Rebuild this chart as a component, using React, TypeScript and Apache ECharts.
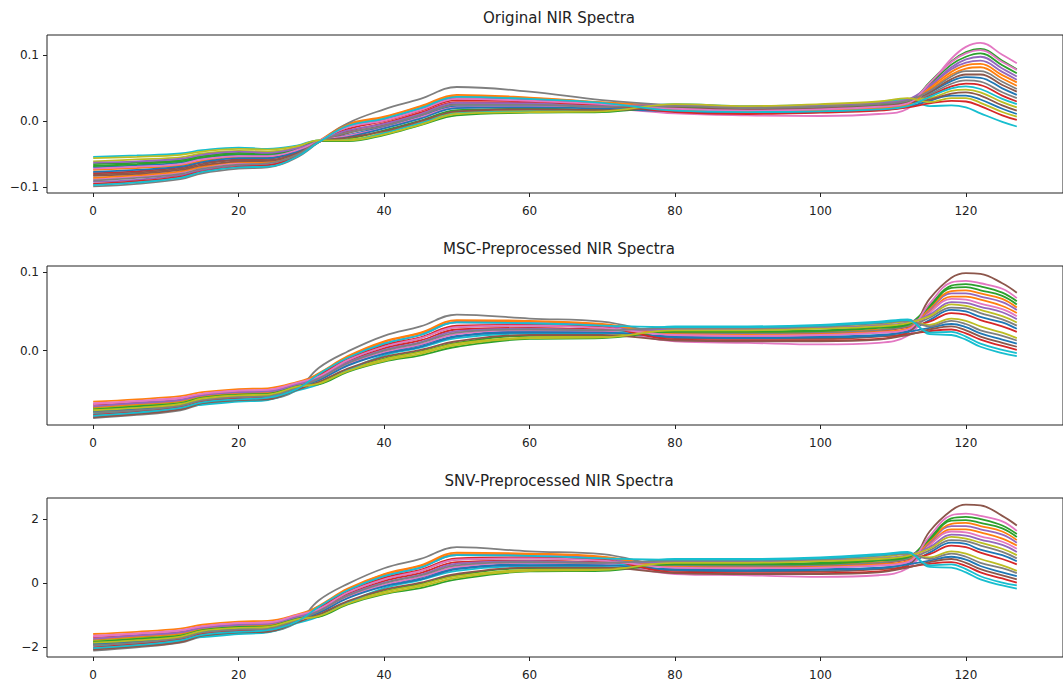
import React, { useEffect, useRef } from "react";
import * as echarts from "echarts";

// wavelength index sample positions
const X = [0, 6, 12, 15, 20, 24, 28, 31, 35, 40, 45, 50, 60, 70, 80, 90, 100, 108, 112, 115, 118, 120, 122, 125, 127];

const X_TICKS = [0, 20, 40, 60, 80, 100, 120];
const Y_TICKS_ORIG = [-0.1, 0, 0.1];
const Y_TICKS_MSC = [0, 0.1];
const Y_TICKS_SNV = [-2, 0, 2];

const TITLES = ["Original NIR Spectra", "MSC-Preprocessed NIR Spectra", "SNV-Preprocessed NIR Spectra"];

const COLORS = ["#1f77b4", "#ff7f0e", "#2ca02c", "#d62728", "#9467bd", "#8c564b", "#e377c2", "#7f7f7f", "#bcbd22", "#17becf"];

const ORIGINAL = [
  [-0.070, -0.067, -0.063, -0.056, -0.051, -0.052, -0.043, -0.030, -0.021, -0.008, 0.007, 0.023, 0.023, 0.021, 0.018, 0.016, 0.017, 0.021, 0.026, 0.043, 0.061, 0.067, 0.066, 0.050, 0.040],
  [-0.074, -0.071, -0.067, -0.060, -0.054, -0.055, -0.045, -0.030, -0.004, 0.007, 0.023, 0.040, 0.036, 0.029, 0.023, 0.020, 0.022, 0.026, 0.031, 0.048, 0.071, 0.080, 0.082, 0.065, 0.054],
  [-0.065, -0.063, -0.059, -0.053, -0.048, -0.049, -0.042, -0.030, -0.027, -0.014, 0.001, 0.017, 0.019, 0.018, 0.020, 0.017, 0.019, 0.023, 0.028, 0.059, 0.091, 0.105, 0.110, 0.092, 0.079],
  [-0.079, -0.076, -0.070, -0.063, -0.058, -0.057, -0.047, -0.031, -0.015, -0.003, 0.013, 0.029, 0.028, 0.024, 0.021, 0.018, 0.021, 0.024, 0.029, 0.039, 0.053, 0.057, 0.055, 0.039, 0.030],
  [-0.092, -0.089, -0.082, -0.074, -0.067, -0.066, -0.052, -0.032, -0.009, 0.003, 0.019, 0.035, 0.033, 0.027, 0.017, 0.014, 0.016, 0.019, 0.024, 0.052, 0.079, 0.089, 0.092, 0.075, 0.063],
  [-0.081, -0.078, -0.072, -0.065, -0.059, -0.059, -0.048, -0.031, -0.018, -0.006, 0.010, 0.026, 0.026, 0.022, 0.019, 0.016, 0.018, 0.022, 0.027, 0.044, 0.064, 0.071, 0.071, 0.055, 0.045],
  [-0.088, -0.084, -0.078, -0.070, -0.064, -0.063, -0.051, -0.031, -0.022, -0.010, 0.006, 0.021, 0.022, 0.020, 0.012, 0.009, 0.008, 0.011, 0.019, 0.055, 0.095, 0.113, 0.119, 0.101, 0.088],
  [-0.099, -0.095, -0.088, -0.079, -0.072, -0.070, -0.055, -0.032, -0.003, 0.018, 0.034, 0.052, 0.045, 0.032, 0.024, 0.019, 0.020, 0.023, 0.028, 0.041, 0.057, 0.062, 0.060, 0.044, 0.035],
  [-0.061, -0.058, -0.055, -0.049, -0.045, -0.046, -0.040, -0.029, -0.028, -0.017, -0.002, 0.014, 0.016, 0.016, 0.024, 0.021, 0.024, 0.028, 0.033, 0.035, 0.046, 0.048, 0.044, 0.029, 0.021],
  [-0.054, -0.052, -0.049, -0.044, -0.040, -0.042, -0.037, -0.029, -0.029, -0.018, -0.003, 0.012, 0.015, 0.016, 0.026, 0.023, 0.025, 0.029, 0.034, 0.023, 0.024, 0.021, 0.012, -0.001, -0.008],
  [-0.077, -0.074, -0.069, -0.062, -0.056, -0.056, -0.046, -0.031, -0.024, -0.011, 0.004, 0.020, 0.021, 0.019, 0.015, 0.013, 0.014, 0.017, 0.022, 0.031, 0.039, 0.039, 0.033, 0.019, 0.011],
  [-0.086, -0.082, -0.076, -0.069, -0.062, -0.062, -0.050, -0.031, -0.006, 0.006, 0.022, 0.038, 0.035, 0.028, 0.017, 0.015, 0.017, 0.020, 0.025, 0.050, 0.075, 0.085, 0.087, 0.070, 0.059],
  [-0.068, -0.065, -0.061, -0.055, -0.050, -0.050, -0.042, -0.030, -0.030, -0.021, -0.006, 0.009, 0.013, 0.014, 0.022, 0.019, 0.021, 0.025, 0.030, 0.056, 0.086, 0.098, 0.103, 0.085, 0.073],
  [-0.095, -0.091, -0.084, -0.076, -0.069, -0.067, -0.053, -0.032, -0.012, 0.000, 0.016, 0.032, 0.030, 0.025, 0.014, 0.011, 0.013, 0.016, 0.021, 0.027, 0.031, 0.030, 0.023, 0.009, 0.002],
  [-0.063, -0.061, -0.057, -0.051, -0.046, -0.048, -0.041, -0.030, -0.014, -0.004, 0.011, 0.028, 0.027, 0.023, 0.025, 0.022, 0.025, 0.028, 0.033, 0.054, 0.082, 0.094, 0.098, 0.080, 0.068],
  [-0.083, -0.080, -0.074, -0.067, -0.061, -0.060, -0.049, -0.031, -0.025, -0.015, 0.000, 0.015, 0.018, 0.017, 0.020, 0.018, 0.020, 0.023, 0.028, 0.033, 0.042, 0.044, 0.039, 0.024, 0.016],
  [-0.072, -0.069, -0.065, -0.058, -0.053, -0.053, -0.044, -0.030, -0.009, 0.001, 0.017, 0.034, 0.031, 0.026, 0.019, 0.016, 0.018, 0.022, 0.027, 0.058, 0.090, 0.103, 0.108, 0.090, 0.078],
  [-0.090, -0.086, -0.080, -0.072, -0.066, -0.064, -0.051, -0.031, -0.017, -0.007, 0.009, 0.025, 0.025, 0.022, 0.023, 0.020, 0.022, 0.026, 0.031, 0.046, 0.068, 0.076, 0.076, 0.060, 0.049],
  [-0.056, -0.054, -0.051, -0.046, -0.042, -0.043, -0.038, -0.029, -0.029, -0.020, -0.005, 0.011, 0.014, 0.015, 0.026, 0.023, 0.026, 0.030, 0.035, 0.029, 0.035, 0.035, 0.028, 0.014, 0.007],
  [-0.097, -0.093, -0.086, -0.077, -0.070, -0.069, -0.054, -0.032, -0.007, 0.004, 0.020, 0.037, 0.034, 0.028, 0.016, 0.014, 0.015, 0.018, 0.023, 0.037, 0.050, 0.053, 0.049, 0.034, 0.026],
];

const MSC = [
  [-0.076, -0.073, -0.068, -0.061, -0.057, -0.056, -0.046, -0.037, -0.018, -0.003, 0.007, 0.019, 0.025, 0.024, 0.018, 0.017, 0.018, 0.020, 0.025, 0.039, 0.052, 0.050, 0.043, 0.036, 0.028],
  [-0.065, -0.062, -0.058, -0.053, -0.049, -0.048, -0.040, -0.030, -0.008, 0.011, 0.022, 0.037, 0.037, 0.033, 0.023, 0.023, 0.024, 0.027, 0.032, 0.050, 0.069, 0.069, 0.065, 0.057, 0.048],
  [-0.073, -0.069, -0.065, -0.059, -0.055, -0.053, -0.044, -0.041, -0.024, -0.010, -0.001, 0.010, 0.019, 0.019, 0.025, 0.025, 0.026, 0.030, 0.034, 0.058, 0.083, 0.085, 0.082, 0.074, 0.063],
  [-0.069, -0.066, -0.062, -0.056, -0.052, -0.051, -0.042, -0.034, -0.014, 0.003, 0.013, 0.027, 0.029, 0.027, 0.022, 0.021, 0.022, 0.025, 0.030, 0.037, 0.048, 0.046, 0.039, 0.031, 0.024],
  [-0.084, -0.080, -0.074, -0.067, -0.063, -0.061, -0.049, -0.030, -0.009, 0.009, 0.020, 0.036, 0.035, 0.032, 0.020, 0.019, 0.020, 0.023, 0.027, 0.052, 0.073, 0.073, 0.069, 0.062, 0.052],
  [-0.078, -0.075, -0.069, -0.063, -0.059, -0.057, -0.047, -0.033, -0.012, 0.005, 0.016, 0.030, 0.032, 0.029, 0.016, 0.015, 0.015, 0.018, 0.023, 0.066, 0.093, 0.099, 0.098, 0.086, 0.074],
  [-0.068, -0.065, -0.061, -0.055, -0.051, -0.050, -0.042, -0.036, -0.017, -0.002, 0.008, 0.021, 0.026, 0.025, 0.012, 0.010, 0.008, 0.010, 0.019, 0.048, 0.066, 0.065, 0.060, 0.053, 0.044],
  [-0.086, -0.082, -0.076, -0.068, -0.064, -0.062, -0.050, -0.022, -0.001, 0.019, 0.031, 0.046, 0.041, 0.037, 0.022, 0.022, 0.023, 0.026, 0.031, 0.042, 0.055, 0.054, 0.048, 0.040, 0.032],
  [-0.074, -0.070, -0.066, -0.059, -0.055, -0.054, -0.044, -0.042, -0.025, -0.011, -0.002, 0.009, 0.017, 0.018, 0.028, 0.028, 0.030, 0.033, 0.037, 0.033, 0.041, 0.038, 0.031, 0.023, 0.016],
  [-0.080, -0.077, -0.071, -0.069, -0.065, -0.063, -0.051, -0.043, -0.025, -0.006, 0.004, 0.016, 0.022, 0.022, 0.031, 0.031, 0.033, 0.037, 0.040, 0.021, 0.020, 0.014, 0.005, -0.003, -0.007],
  [-0.077, -0.074, -0.068, -0.062, -0.058, -0.056, -0.046, -0.038, -0.019, -0.004, 0.005, 0.018, 0.023, 0.023, 0.017, 0.016, 0.017, 0.019, 0.024, 0.029, 0.034, 0.030, 0.022, 0.014, 0.009],
  [-0.072, -0.068, -0.064, -0.058, -0.054, -0.053, -0.043, -0.029, -0.007, 0.012, 0.023, 0.039, 0.038, 0.034, 0.021, 0.020, 0.021, 0.024, 0.028, 0.054, 0.076, 0.077, 0.073, 0.066, 0.055],
  [-0.075, -0.071, -0.067, -0.060, -0.056, -0.055, -0.045, -0.043, -0.027, -0.014, -0.006, 0.005, 0.015, 0.016, 0.024, 0.024, 0.025, 0.029, 0.033, 0.056, 0.080, 0.081, 0.077, 0.070, 0.059],
  [-0.082, -0.078, -0.072, -0.065, -0.061, -0.059, -0.048, -0.032, -0.011, 0.007, 0.017, 0.032, 0.033, 0.030, 0.014, 0.013, 0.013, 0.015, 0.021, 0.025, 0.027, 0.022, 0.014, 0.006, 0.001],
  [-0.071, -0.067, -0.063, -0.057, -0.053, -0.052, -0.043, -0.035, -0.015, 0.001, 0.011, 0.025, 0.028, 0.026, 0.027, 0.027, 0.029, 0.032, 0.036, 0.046, 0.062, 0.061, 0.056, 0.049, 0.040],
  [-0.085, -0.081, -0.075, -0.067, -0.063, -0.062, -0.050, -0.040, -0.023, -0.008, 0.001, 0.012, 0.020, 0.020, 0.013, 0.012, 0.012, 0.014, 0.020, 0.027, 0.031, 0.026, 0.018, 0.010, 0.005],
  [-0.067, -0.064, -0.060, -0.055, -0.051, -0.050, -0.041, -0.033, -0.012, 0.005, 0.016, 0.030, 0.032, 0.029, 0.020, 0.019, 0.020, 0.023, 0.027, 0.060, 0.087, 0.089, 0.086, 0.079, 0.067],
  [-0.079, -0.076, -0.070, -0.063, -0.059, -0.058, -0.047, -0.036, -0.016, 0.000, 0.010, 0.023, 0.027, 0.026, 0.029, 0.029, 0.031, 0.035, 0.038, 0.031, 0.038, 0.034, 0.026, 0.019, 0.013],
  [-0.076, -0.073, -0.068, -0.061, -0.057, -0.056, -0.046, -0.042, -0.026, -0.013, -0.004, 0.007, 0.016, 0.017, 0.026, 0.026, 0.028, 0.031, 0.035, 0.044, 0.059, 0.057, 0.052, 0.044, 0.036],
  [-0.083, -0.079, -0.073, -0.066, -0.062, -0.060, -0.049, -0.030, -0.009, 0.009, 0.020, 0.036, 0.035, 0.032, 0.030, 0.030, 0.032, 0.036, 0.039, 0.023, 0.024, 0.018, 0.009, 0.001, -0.003],
];

const SNV = [
  [-1.86, -1.79, -1.67, -1.49, -1.40, -1.37, -1.13, -0.91, -0.44, -0.07, 0.17, 0.47, 0.61, 0.59, 0.44, 0.42, 0.44, 0.49, 0.61, 0.96, 1.27, 1.23, 1.05, 0.88, 0.69],
  [-1.59, -1.52, -1.42, -1.30, -1.20, -1.18, -0.98, -0.74, -0.20, 0.27, 0.54, 0.91, 0.91, 0.81, 0.56, 0.56, 0.59, 0.66, 0.78, 1.23, 1.69, 1.69, 1.59, 1.40, 1.18],
  [-1.79, -1.69, -1.59, -1.45, -1.35, -1.30, -1.08, -1.00, -0.59, -0.25, -0.02, 0.25, 0.47, 0.47, 0.61, 0.61, 0.64, 0.74, 0.83, 1.42, 2.03, 2.08, 2.01, 1.81, 1.54],
  [-1.69, -1.62, -1.52, -1.37, -1.27, -1.25, -1.03, -0.83, -0.34, 0.07, 0.32, 0.66, 0.71, 0.66, 0.54, 0.51, 0.54, 0.61, 0.74, 0.91, 1.18, 1.13, 0.96, 0.76, 0.59],
  [-2.06, -1.96, -1.81, -1.64, -1.54, -1.49, -1.20, -0.74, -0.22, 0.22, 0.49, 0.88, 0.86, 0.78, 0.49, 0.47, 0.49, 0.56, 0.66, 1.27, 1.79, 1.79, 1.69, 1.52, 1.27],
  [-1.91, -1.84, -1.69, -1.54, -1.45, -1.40, -1.15, -0.81, -0.29, 0.12, 0.39, 0.74, 0.78, 0.71, 0.39, 0.37, 0.37, 0.44, 0.56, 1.62, 2.28, 2.46, 2.44, 2.11, 1.81],
  [-1.67, -1.59, -1.49, -1.35, -1.25, -1.23, -1.03, -0.88, -0.42, -0.05, 0.20, 0.51, 0.64, 0.61, 0.29, 0.25, 0.20, 0.25, 0.47, 1.18, 1.62, 1.59, 1.47, 1.30, 1.08],
  [-2.11, -2.01, -1.86, -1.67, -1.57, -1.52, -1.23, -0.54, -0.02, 0.47, 0.76, 1.13, 1.00, 0.91, 0.54, 0.54, 0.56, 0.64, 0.76, 1.03, 1.35, 1.32, 1.18, 0.98, 0.78],
  [-1.81, -1.72, -1.62, -1.45, -1.35, -1.32, -1.08, -1.03, -0.61, -0.27, -0.05, 0.22, 0.42, 0.44, 0.69, 0.69, 0.74, 0.81, 0.91, 0.81, 1.00, 0.93, 0.76, 0.56, 0.39],
  [-1.96, -1.89, -1.74, -1.69, -1.59, -1.54, -1.25, -1.05, -0.61, -0.15, 0.10, 0.39, 0.54, 0.54, 0.76, 0.76, 0.81, 0.91, 0.98, 0.51, 0.49, 0.34, 0.12, -0.07, -0.17],
  [-1.89, -1.81, -1.67, -1.52, -1.42, -1.37, -1.13, -0.93, -0.47, -0.10, 0.12, 0.44, 0.56, 0.56, 0.42, 0.39, 0.42, 0.47, 0.59, 0.71, 0.83, 0.74, 0.54, 0.34, 0.22],
  [-1.76, -1.67, -1.57, -1.42, -1.32, -1.30, -1.05, -0.71, -0.17, 0.29, 0.56, 0.96, 0.93, 0.83, 0.51, 0.49, 0.51, 0.59, 0.69, 1.32, 1.86, 1.89, 1.79, 1.62, 1.35],
  [-1.84, -1.74, -1.64, -1.47, -1.37, -1.35, -1.10, -1.05, -0.66, -0.34, -0.15, 0.12, 0.37, 0.39, 0.59, 0.59, 0.61, 0.71, 0.81, 1.37, 1.96, 1.98, 1.89, 1.72, 1.45],
  [-2.01, -1.91, -1.76, -1.59, -1.49, -1.45, -1.18, -0.78, -0.27, 0.17, 0.42, 0.78, 0.81, 0.74, 0.34, 0.32, 0.32, 0.37, 0.51, 0.61, 0.66, 0.54, 0.34, 0.15, 0.02],
  [-1.74, -1.64, -1.54, -1.40, -1.30, -1.27, -1.05, -0.86, -0.37, 0.02, 0.27, 0.61, 0.69, 0.64, 0.66, 0.66, 0.71, 0.78, 0.88, 1.13, 1.52, 1.49, 1.37, 1.20, 0.98],
  [-2.08, -1.98, -1.84, -1.64, -1.54, -1.52, -1.23, -0.98, -0.56, -0.20, 0.02, 0.29, 0.49, 0.49, 0.32, 0.29, 0.29, 0.34, 0.49, 0.66, 0.76, 0.64, 0.44, 0.25, 0.12],
  [-1.64, -1.57, -1.47, -1.35, -1.25, -1.23, -1.00, -0.81, -0.29, 0.12, 0.39, 0.74, 0.78, 0.71, 0.49, 0.47, 0.49, 0.56, 0.66, 1.47, 2.13, 2.18, 2.11, 1.94, 1.64],
  [-1.94, -1.86, -1.72, -1.54, -1.45, -1.42, -1.15, -0.88, -0.39, 0.00, 0.25, 0.56, 0.66, 0.64, 0.71, 0.71, 0.76, 0.86, 0.93, 0.76, 0.93, 0.83, 0.64, 0.47, 0.32],
  [-1.86, -1.79, -1.67, -1.49, -1.40, -1.37, -1.13, -1.03, -0.64, -0.32, -0.10, 0.17, 0.39, 0.42, 0.64, 0.64, 0.69, 0.76, 0.86, 1.08, 1.45, 1.40, 1.27, 1.08, 0.88],
  [-2.03, -1.94, -1.79, -1.62, -1.52, -1.47, -1.20, -0.74, -0.22, 0.22, 0.49, 0.88, 0.86, 0.78, 0.74, 0.74, 0.78, 0.88, 0.96, 0.56, 0.59, 0.44, 0.22, 0.02, -0.07],
];

const minus = (s: string) => s.replace("-", "\u2212");

export default function App() {
  const ref = useRef<HTMLDivElement>(null);

  useEffect(() => {
    if (!ref.current) return;
    const chart = echarts.init(ref.current, null, { renderer: "svg" });

    const panels = [
      { data: ORIGINAL, yMin: -0.109, yMax: 0.131, ticks: Y_TICKS_ORIG, fmt: (v: number) => minus(v.toFixed(1)), top: 35, height: 158, titleY: 18 },
      { data: MSC, yMin: -0.0948, yMax: 0.108, ticks: Y_TICKS_MSC, fmt: (v: number) => minus(v.toFixed(1)), top: 266, height: 159, titleY: 249 },
      { data: SNV, yMin: -2.31, yMax: 2.67, ticks: Y_TICKS_SNV, fmt: (v: number) => minus(v.toFixed(0)), top: 498, height: 159, titleY: 481 },
    ];

    const textColor = "#222";
    const font = "DejaVu Sans";

    const grid = panels.map((p) => ({
      left: 47,
      top: p.top,
      width: 1025,
      height: p.height,
      show: true,
      borderColor: "#222",
      borderWidth: 1,
      backgroundColor: "transparent",
    }));

    const xAxis = panels.map((_, i) => ({
      type: "value",
      gridIndex: i,
      position: "bottom",
      min: -6.35,
      max: 133.35,
      splitLine: { show: false },
      axisLine: { show: false, onZero: false },
      axisTick: { show: true, length: 4, inside: false, customValues: X_TICKS, lineStyle: { color: "#222", width: 1 } },
      axisLabel: { customValues: X_TICKS, margin: 12, fontSize: 12, color: textColor, fontFamily: font },
    }));

    const yAxis = panels.map((p, i) => ({
      type: "value",
      gridIndex: i,
      position: "left",
      min: p.yMin,
      max: p.yMax,
      splitLine: { show: false },
      axisLine: { show: false, onZero: false },
      axisTick: { show: true, length: 4, inside: false, customValues: p.ticks, lineStyle: { color: "#222", width: 1 } },
      axisLabel: { customValues: p.ticks, margin: 8, fontSize: 12, color: textColor, fontFamily: font, formatter: p.fmt },
    }));

    const series: any[] = [];
    panels.forEach((p, gi) => {
      p.data.forEach((line, li) => {
        series.push({
          type: "line",
          xAxisIndex: gi,
          yAxisIndex: gi,
          data: X.map((x, k) => [x, line[k]]),
          showSymbol: false,
          symbol: "none",
          smooth: 0.4,
          lineStyle: { color: COLORS[li % COLORS.length], width: 1.8 },
          emphasis: { disabled: true },
          silent: true,
          z: 2,
        });
      });
    });

    const graphic = panels.map((p, i) => ({
      type: "text",
      x: 559,
      y: p.titleY,
      style: {
        text: TITLES[i],
        align: "center",
        verticalAlign: "middle",
        font: `15px "${font}"`,
        fill: textColor,
      },
    }));

    chart.setOption({
      animation: false,
      backgroundColor: "#ffffff",
      grid,
      xAxis,
      yAxis,
      series,
      graphic,
    });

    return () => chart.dispose();
  }, []);

  return (
    <div
      ref={ref}
      style={{ position: "fixed", left: 0, top: 0, width: 1063, height: 688, background: "#fff" }}
    />
  );
}
